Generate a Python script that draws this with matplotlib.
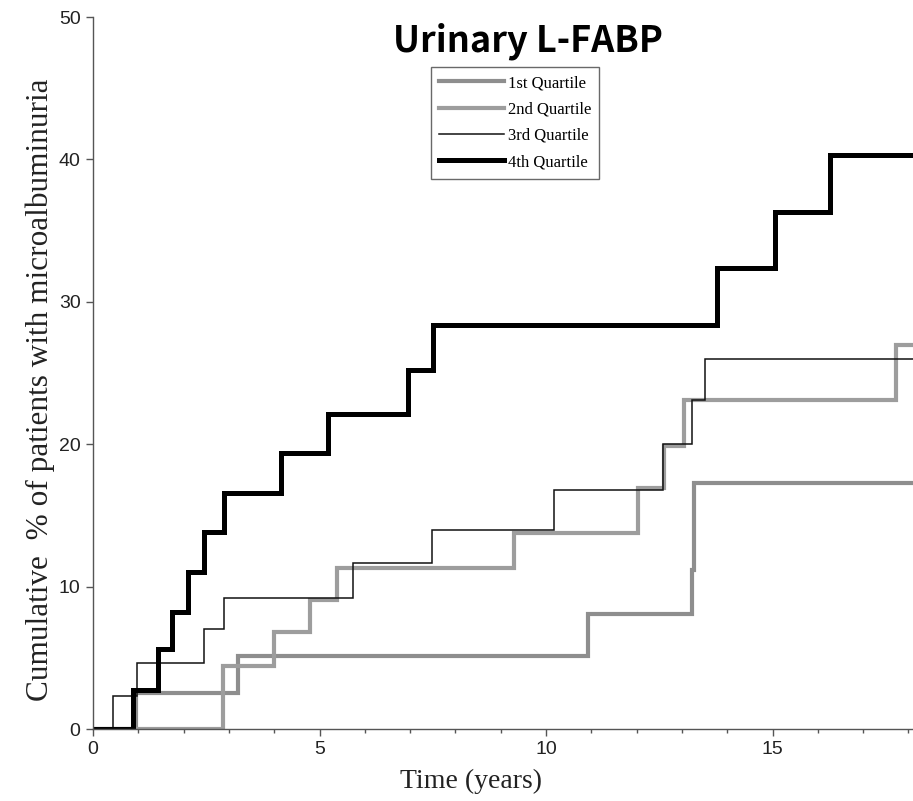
import matplotlib
matplotlib.use("Agg")
import matplotlib.pyplot as plt
from matplotlib.ticker import MultipleLocator

# cumulative incidence of microalbuminuria (%) by urinary L-FABP quartile
# step times in years, value after each step; first point is baseline, last is end of follow-up
q1_time = [0.0, 0.96, 3.2, 10.92, 13.22, 13.26, 18.2]
q1_pct = [0.0, 2.5, 5.13, 8.1, 11.2, 17.3, 17.3]

q2_time = [0.0, 2.87, 4.0, 4.79, 5.39, 9.3, 12.02, 12.6, 13.05, 17.72, 18.2]
q2_pct = [0.0, 4.45, 6.8, 9.06, 11.33, 13.74, 16.9, 19.9, 23.1, 27.0, 27.0]

q3_time = [0.0, 0.45, 0.98, 2.45, 2.89, 5.73, 7.48, 10.18, 12.59, 13.23, 13.52, 18.2]
q3_pct = [0.0, 2.3, 4.66, 7.0, 9.22, 11.65, 13.97, 16.78, 20.0, 23.1, 26.0, 26.0]

q4_time = [0.0, 0.88, 1.43, 1.74, 2.1, 2.45, 2.9, 4.16, 5.18, 6.95, 7.51, 13.77, 15.06, 16.27, 18.2]
q4_pct = [0.0, 2.74, 5.6, 8.2, 11.05, 13.86, 16.6, 19.4, 22.1, 25.2, 28.4, 32.4, 36.3, 40.3, 40.3]

series = [
    ("1st Quartile", q1_time, q1_pct, "#8e8e8e", 3.0),
    ("2nd Quartile", q2_time, q2_pct, "#9d9d9d", 3.0),
    ("3rd Quartile", q3_time, q3_pct, "#111111", 1.1),
    ("4th Quartile", q4_time, q4_pct, "#000000", 3.6),
]

x_ticks = [0, 5, 10, 15]
y_ticks = [0, 10, 20, 30, 40, 50]

W, H = 913, 801
fig = plt.figure(figsize=(W / 100, H / 100), dpi=100)
ax = fig.add_axes([93 / W, 1 - 729 / H, (W - 93) / W, (729 - 17) / H])

for label, t, v, color, lw in series:
    ax.step(t, v, where="post", color=color, lw=lw, label=label, solid_joinstyle="miter")

ax.set_xlim(0, (W - 93) / 45.3)
ax.set_ylim(0, 50)
ax.set_xticks(x_ticks)
ax.set_yticks(y_ticks)
ax.xaxis.set_minor_locator(MultipleLocator(1))

for side in ("top", "right"):
    ax.spines[side].set_visible(False)
for side in ("left", "bottom"):
    ax.spines[side].set_color("#555555")
    ax.spines[side].set_linewidth(1.0)

ax.tick_params(which="major", direction="out", length=5, width=1, color="#555555",
               labelsize=14, pad=4)
ax.tick_params(which="minor", direction="out", length=3, width=1, color="#555555")
for lab in ax.get_xticklabels() + ax.get_yticklabels():
    lab.set_family("Liberation Sans")
    lab.set_color("#222222")

leg = ax.legend(loc="upper left", bbox_to_anchor=(431 / W, 1 - 67 / H),
                bbox_transform=fig.transFigure, frameon=True, fancybox=False,
                prop={"family": "Liberation Serif", "size": 12},
                handlelength=3.9, handletextpad=0.2, labelspacing=0.62,
                borderpad=0.5, borderaxespad=0)
leg.get_frame().set_edgecolor("#444444")
leg.get_frame().set_linewidth(1.0)

fig.text(528 / W, 1 - 41 / H, "Urinary L-FABP", ha="center", va="center",
         family=["Noto Sans CJK KR", "DejaVu Sans"], fontweight="bold", fontsize=26)
fig.text(40 / W, 1 - 390 / H, "Cumulative  % of patients with microalbuminuria",
         rotation=90, ha="center", va="center", family="Liberation Serif", fontsize=22.5,
         color="#222222")
fig.text(471 / W, 1 - 781 / H, "Time (years)", ha="center", va="center",
         family="Liberation Serif", fontsize=20, color="#222222")

fig.savefig("out.png", dpi=100)
